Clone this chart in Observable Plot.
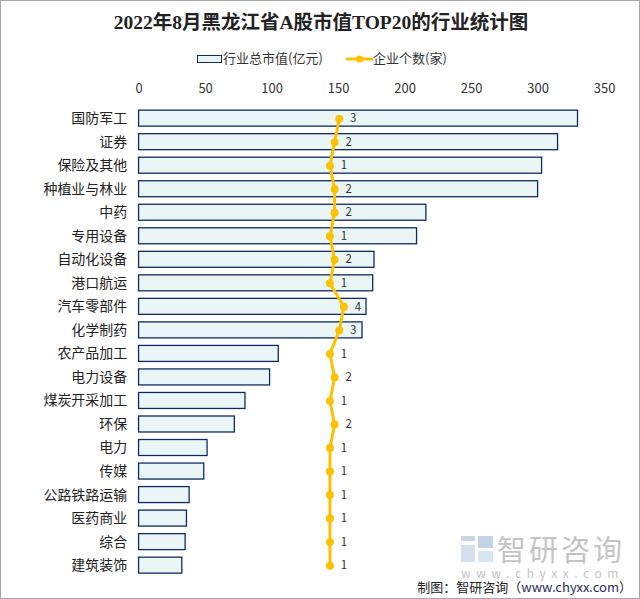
<!DOCTYPE html>
<html><head><meta charset="utf-8">
<script src="https://cdn.jsdelivr.net/npm/d3@7"></script>
<script src="https://cdn.jsdelivr.net/npm/@observablehq/plot@0.6"></script>
<style>
html,body{margin:0;padding:0;background:#fff;}
#wrap{position:relative;width:640px;height:599px;box-sizing:border-box;border:1px solid #a6a6a6;overflow:hidden;font-family:"Noto Sans CJK SC","Noto Sans",sans-serif;}
#title{position:absolute;left:0;top:8px;width:640px;text-align:center;font-family:"Liberation Serif","Noto Sans CJK SC",serif;font-weight:bold;font-size:19.5px;color:#222;line-height:28px;}
#legend{position:absolute;left:0;top:47px;width:640px;height:20px;font-size:13px;color:#333;}
.lg{position:absolute;top:0;line-height:20px;white-space:nowrap;}
#chart{position:absolute;left:0;top:70px;}
#credit{position:absolute;right:7px;top:576px;font-size:13px;color:#222;line-height:20px;white-space:nowrap;}
#wm{position:absolute;left:460px;top:534px;color:#c4c4c4;}
</style></head>
<body>
<div id="wrap">
  <div id="title">2022年8月黑龙江省A股市值TOP20的行业统计图</div>
  <div id="legend">
    <div class="lg" style="left:196px;top:0"><span style="display:inline-block;width:25px;height:8px;border:1px solid #0d2a66;background:#eaf6f6;vertical-align:middle;margin-right:1px;box-sizing:border-box"></span>行业总市值(亿元)</div>
    <div class="lg" style="left:345px;top:0"><svg width="27" height="10" style="vertical-align:middle;margin-right:0px"><line x1="0" y1="5" x2="27" y2="5" stroke="#ffc000" stroke-width="3"/><circle cx="13.5" cy="5" r="3.5" fill="#ffc000"/></svg>企业个数(家)</div>
  </div>
  <div id="chart"></div>
  <div id="wm">
    <svg width="34" height="28" style="position:absolute;left:0;top:1px"><rect x="0" y="0" width="14" height="5" fill="#c8d6e8"/><rect x="0" y="9" width="14" height="17" fill="#d4e0ee"/><rect x="17" y="0" width="15" height="12" fill="#c3d3e6"/><rect x="17" y="15" width="15" height="11" fill="#dbe5f1"/></svg>
    <div style="position:absolute;left:36px;top:-7px;font-size:29px;letter-spacing:3px;white-space:nowrap;line-height:40px;">智研咨询</div>
    <div style="position:absolute;left:0px;top:31px;font-size:12px;letter-spacing:5.6px;white-space:nowrap;line-height:14px;">www.chyxx.com</div>
  </div>
  <div id="credit">制图：智研咨询（<span style="color:#1f2d5a">www.chyxx.com</span>）</div>
</div>
<script>
const categories = ["国防军工","证券","保险及其他","种植业与林业","中药","专用设备","自动化设备","港口航运","汽车零部件","化学制药","农产品加工","电力设备","煤炭开采加工","环保","电力","传媒","公路铁路运输","医药商业","综合","建筑装饰"];
const marketValue = [330, 315, 303, 300, 216, 209, 177, 176, 171, 168, 105, 98.5, 80, 72, 51.5, 49, 38, 36, 35, 32.5];
const companyCount = [3, 2, 1, 2, 2, 1, 2, 1, 4, 3, 1, 2, 1, 2, 1, 1, 1, 1, 1, 1];
const xTicks = [0, 50, 100, 150, 200, 250, 300, 350];
const primaryMax = 350;
// hidden secondary axis domain for company count
const secMin = -40, secMax = 60;

const data = categories.map((c, i) => ({cat: c, value: marketValue[i], count: companyCount[i]}));
const sec = d3.scaleLinear().domain([secMin, secMax]).range([0, primaryMax]);
const lineData = data.map(d => ({...d, sx: sec(d.count)}));

const chart = Plot.plot({
  width: 640,
  height: 529,
  marginLeft: 138,
  marginRight: 35,
  marginTop: 35.5,
  marginBottom: 21.5,
  style: {fontFamily: '"Noto Sans CJK SC","Noto Sans",sans-serif', background: "transparent", overflow: "visible"},
  x: {domain: [0, primaryMax], axis: "top", ticks: xTicks, tickSize: 0, tickPadding: 14, label: null, grid: false},
  y: {domain: categories, paddingInner: 0.32, paddingOuter: 0.16, round: false, label: null, tickSize: 0, tickPadding: 12},
  marks: [
    Plot.barX(data, {x: "value", y: "cat", fill: "#eaf6f6", stroke: "#0d2a66", strokeWidth: 1.3}),
    Plot.line(lineData, {x: "sx", y: "cat", stroke: "#ffc000", strokeWidth: 3, curve: "linear"}),
    Plot.dot(lineData, {x: "sx", y: "cat", r: 4, fill: "#ffc000"}),
    Plot.text(lineData, {x: "sx", y: "cat", text: d => String(d.count), dx: 14, fontSize: 11.5, fill: "#333", textAnchor: "middle"})
  ]
});
chart.querySelectorAll('[aria-label="x-axis tick label"]').forEach(e => {e.style.fontSize = "13px"; e.setAttribute("fill", "#333");});
chart.querySelectorAll('[aria-label="y-axis tick label"]').forEach(e => {e.style.fontSize = "14px"; e.setAttribute("fill", "#222");});
document.getElementById("chart").appendChild(chart);
</script>
</body></html>
